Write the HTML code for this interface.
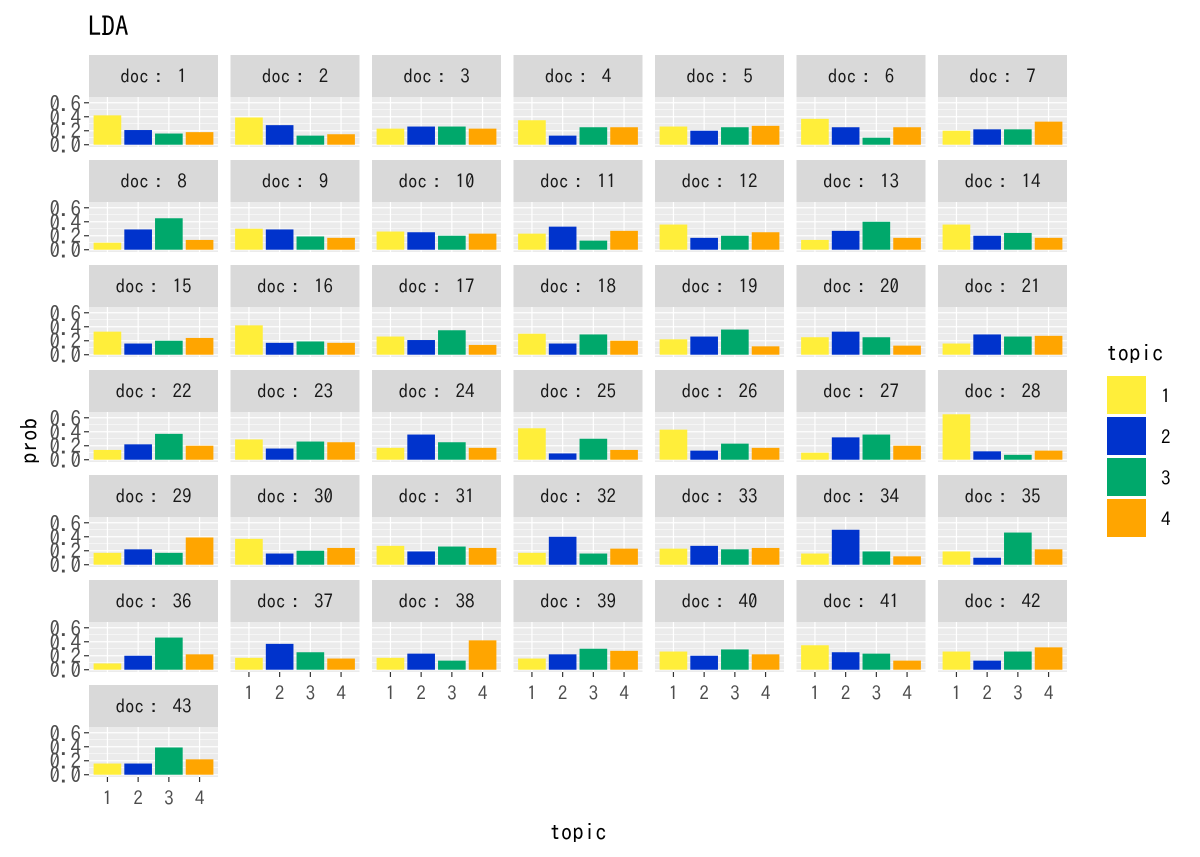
<!DOCTYPE html>
<html><head><meta charset="utf-8">
<style>
body{margin:0;background:#fff;}
svg{display:block;font-family:"IPAGothic","Liberation Sans","Noto Sans CJK JP",sans-serif;}
</style></head>
<body>
<svg id="c" width="1200" height="857" xmlns="http://www.w3.org/2000/svg">
<text x="88" y="36" font-size="27" fill="#000">LDA</text>
<text transform="translate(37,441) rotate(-90)" font-size="23" text-anchor="middle" fill="#000">prob</text>
<text x="578" y="840" font-size="23" text-anchor="middle" fill="#000">topic</text>
<g id="panels"></g>
<g id="legend">
<text x="1106" y="361" font-size="23" fill="#000">topic</text>
</g>
</svg>
<script>
const topics = ["1","2","3","4"];
const docs = ["1","2","3","4","5","6","7","8","9","10","11","12","13","14","15","16","17","18","19","20","21","22","23","24","25","26","27","28","29","30","31","32","33","34","35","36","37","38","39","40","41","42","43"];
const topic1 = [.42,.39,.23,.35,.26,.37,.20,.10,.30,.26,.23,.36,.14,.36,.33,.42,.26,.30,.22,.25,.16,.14,.29,.17,.45,.43,.10,.65,.17,.37,.27,.17,.23,.16,.19,.09,.17,.17,.16,.26,.35,.26,.16];
const topic2 = [.21,.28,.26,.13,.20,.25,.22,.29,.29,.25,.33,.17,.27,.20,.16,.17,.21,.16,.26,.33,.29,.22,.16,.36,.09,.13,.32,.12,.22,.16,.19,.40,.27,.50,.10,.20,.37,.23,.22,.20,.25,.13,.16];
const topic3 = [.16,.13,.26,.25,.25,.10,.22,.45,.19,.20,.13,.20,.40,.24,.20,.19,.35,.29,.36,.25,.26,.37,.26,.25,.30,.23,.36,.07,.17,.20,.26,.16,.22,.19,.46,.46,.25,.13,.30,.29,.23,.26,.39];
const topic4 = [.18,.15,.23,.25,.27,.25,.33,.14,.17,.23,.27,.25,.17,.17,.24,.17,.14,.20,.12,.13,.27,.20,.25,.17,.14,.17,.20,.13,.39,.24,.24,.23,.24,.12,.22,.22,.16,.42,.27,.22,.13,.32,.22];
const yTicks = ["0.0","0.2","0.4","0.6"];
const colors = ["#FFEE3A","#0033CC","#00A86B","#FFA500"];
const NS="http://www.w3.org/2000/svg";
const series=[topic1,topic2,topic3,topic4];
const g=document.getElementById('panels');
function mk(tag,attrs,parent){const e=document.createElementNS(NS,tag);for(const k in attrs)e.setAttribute(k,attrs[k]);parent.appendChild(e);return e;}
const PW=129, STEP_X=141.5, STEP_Y=105, STRIP=42, PH=50, X0=89, Y0=55;
const ymin=-0.0325, ymax=0.6825;
const nCols=7;
docs.forEach((d,i)=>{
  const col=i%nCols,row=Math.floor(i/nCols);
  const px=X0+col*STEP_X, sy=Y0+row*STEP_Y, py=sy+STRIP;
  const yS=v=>py+PH-(v-ymin)/(ymax-ymin)*PH;
  const xS=t=>px+(t-0.4)/4.2*PW;
  const pg=mk('g',{},g);
  
  
  const st=mk('rect',{x:px,y:sy,width:PW,height:STRIP,fill:'#d9d9d9'},pg);
  
  
  const stt=mk('text',{x:px+PW/2,y:sy+28,'font-size':19,'text-anchor':'middle',fill:'#1a1a1a'},pg);
  stt.textContent='doc： '+d;
  
  
  const bg=mk('rect',{x:px,y:py,width:PW,height:PH,fill:'#ebebeb'},pg);
  
  
  [0.1,0.3,0.5].forEach(v=>{mk('line',{x1:px,x2:px+PW,y1:yS(v),y2:yS(v),stroke:'#fff','stroke-width':0.6},pg);});
  yTicks.forEach(t=>{const v=+t;mk('line',{x1:px,x2:px+PW,y1:yS(v),y2:yS(v),stroke:'#fff','stroke-width':1.2},pg);});
  topics.forEach((t,k)=>{mk('line',{x1:xS(k+1),x2:xS(k+1),y1:py,y2:py+PH,stroke:'#fff','stroke-width':1.2},pg);});
  topics.forEach((t,k)=>{
    const v=series[k][i];
    const b=mk('rect',{x:xS(k+1)-0.45*PW/4.2,y:yS(v),width:0.9*PW/4.2,height:yS(0)-yS(v),fill:colors[k]},pg);
    
    
  });
  if(col===0){
    yTicks.forEach(t=>{const v=+t;
      mk('line',{x1:px-5,x2:px,y1:yS(v),y2:yS(v),stroke:'#333','stroke-width':1.2},pg);
      const tl=mk('text',{x:px-8,y:yS(v)+8,'font-size':21,'text-anchor':'end',fill:'#4d4d4d'},pg);
      tl.textContent=t;
      
      
    });
  }
  const last=(i>=docs.length-nCols);
  if(last){
    topics.forEach((t,k)=>{
      mk('line',{x1:xS(k+1),x2:xS(k+1),y1:py+PH,y2:py+PH+5,stroke:'#333','stroke-width':1.2},pg);
      const xl=mk('text',{x:xS(k+1),y:py+PH+28,'font-size':19,'text-anchor':'middle',fill:'#4d4d4d'},pg);
      xl.textContent=t;
      
      
    });
  }
});
const lg=document.getElementById('legend');
topics.forEach((t,k)=>{
  const y=376+k*41;
  const r=mk('rect',{x:1107,y:y,width:39,height:38,fill:colors[k]},lg);
  
  
  const tx=mk('text',{x:1161,y:y+27,'font-size':19,fill:'#000'},lg);
  tx.textContent=t;
  
  
});
</script>
</body></html>
